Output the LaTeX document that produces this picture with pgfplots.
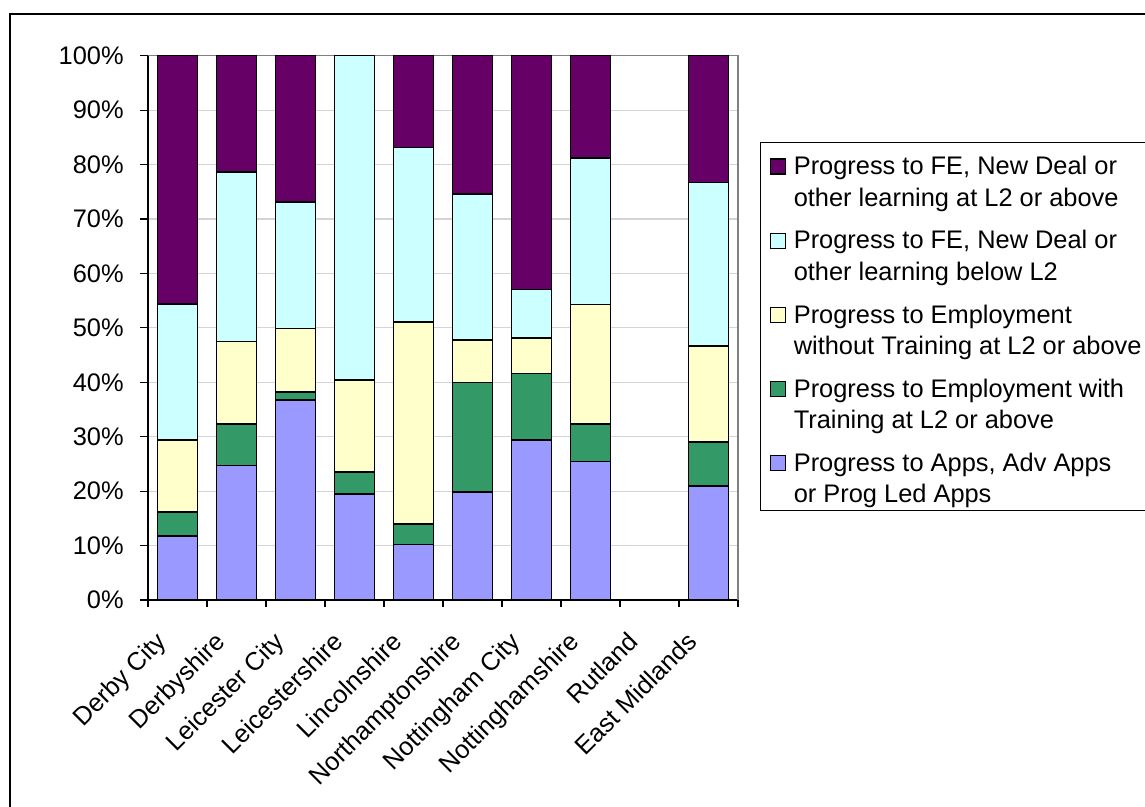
\documentclass[border=0pt]{standalone}
\usepackage{fontspec}
\setmainfont{Liberation Sans}
\usepackage{pgfplots}
\pgfplotsset{compat=1.18}
\definecolor{cApps}{HTML}{9999FF}
\definecolor{cEmpW}{HTML}{339966}
\definecolor{cEmpWO}{HTML}{FFFFCC}
\definecolor{cBelow}{HTML}{CCFFFF}
\definecolor{cAbove}{HTML}{660066}
\definecolor{gridc}{HTML}{D4D4D4}
\pgfplotsset{
  barsty/.style={draw=black, line width=0.75pt, fill=#1,
    legend image code/.code={\draw[draw=black, line width=0.6pt, fill=#1] (0pt,16.2pt) rectangle (7.5pt,23.7pt);}},
}
\begin{document}
\fontsize{12.7}{15.85}\selectfont
\begin{tikzpicture}
\path[use as bounding box] (0,0) rectangle (572.5pt,403.5pt);
\draw[black, line width=0.6pt] (5pt,-5pt) -- (5pt,396.5pt) -- (590pt,396.5pt);
\begin{axis}[
  at={(74pt,103.5pt)}, anchor=south west,
  scale only axis, width=295pt, height=272.15pt,
  ybar stacked, bar width=20pt,
  xmin=-0.5, xmax=9.5, ymin=0, ymax=100,
  enlargelimits=false, clip=false,
  axis lines*=left,
  axis line style={draw=black, line width=0.6pt},
  tick align=outside,
  xtick={0,...,9},
  xticklabels={Derby City, Derbyshire, Leicester City, Leicestershire, Lincolnshire, Northamptonshire, Nottingham City, Nottinghamshire, Rutland, East Midlands},
  major x tick style={draw=none},
  minor xtick={-0.5,0.5,...,9.5},
  minor tick length=3.5pt,
  major tick length=4pt,
  tick style={black, line width=0.6pt},
  xticklabel style={inner sep=0pt, xshift=-11.5pt, yshift=-11pt, rotate=45, anchor=north east},
  ytick={0,10,...,100},
  yticklabels={0\%,10\%,20\%,30\%,40\%,50\%,60\%,70\%,80\%,90\%,100\%},
  yticklabel style={inner sep=0pt, xshift=-8pt},
  ymajorgrids, major grid style={gridc, line width=0.6pt},
  reverse legend,
  legend style={at={(axis description cs:1.0373,0.842)}, anchor=north west,
    draw=black, line width=0.6pt, inner xsep=4.5pt, inner ysep=2pt,
    row sep=10.1pt, column sep=4pt,
    nodes={inner sep=0pt, anchor=base west, align=left}},
]
\addplot[barsty=cApps] coordinates {(0,11.8) (1,24.7) (2,36.7) (3,19.5) (4,10.2) (5,19.8) (6,29.4) (7,25.4) (8,0) (9,20.9)};
\addlegendentry{Progress to Apps, Adv Apps\\or Prog Led Apps\rule[-3.7pt]{0pt}{3.7pt}}
\addplot[barsty=cEmpW] coordinates {(0,4.4) (1,7.6) (2,1.5) (3,4.0) (4,3.8) (5,20.2) (6,12.2) (7,6.9) (8,0) (9,8.1)};
\addlegendentry{Progress to Employment with\\Training at L2 or above}
\addplot[barsty=cEmpWO] coordinates {(0,13.2) (1,15.2) (2,11.7) (3,16.9) (4,37.1) (5,7.8) (6,6.5) (7,22.0) (8,0) (9,17.7)};
\addlegendentry{Progress to Employment\\without Training at L2 or above}
\addplot[barsty=cBelow] coordinates {(0,25.0) (1,31.1) (2,23.2) (3,59.6) (4,32.0) (5,26.8) (6,8.9) (7,26.9) (8,0) (9,30.0)};
\addlegendentry{Progress to FE, New Deal or\\other learning below L2}
\addplot[barsty=cAbove] coordinates {(0,45.6) (1,21.4) (2,26.9) (3,0) (4,16.9) (5,25.4) (6,43.0) (7,18.8) (8,0) (9,23.3)};
\addlegendentry{\rule{0pt}{14.25pt}Progress to FE, New Deal or\\other learning at L2 or above}
\draw[color=gray, line width=0.6pt] (rel axis cs:0,1) -- (rel axis cs:1,1) -- (rel axis cs:1,0);
\end{axis}
\end{tikzpicture}
\end{document}
